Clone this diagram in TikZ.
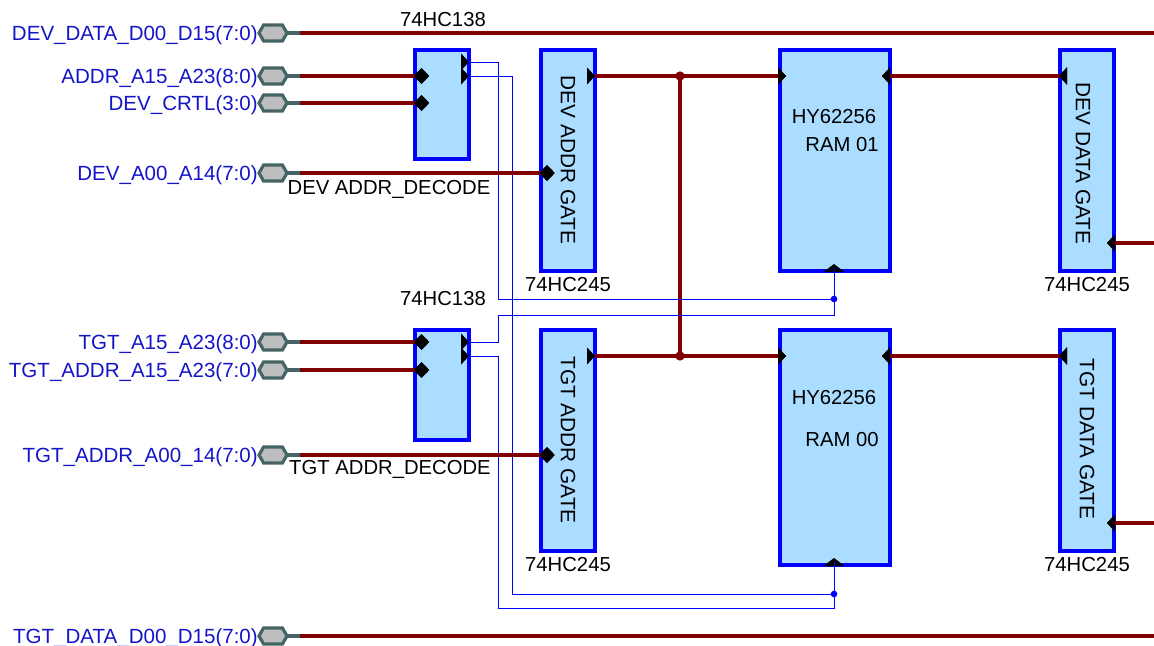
\documentclass[tikz,border=0pt]{standalone}
\usepackage{fontspec}
\setmainfont{Liberation Sans}
\usetikzlibrary{shapes.geometric,shapes.symbols}
\definecolor{busred}{HTML}{800000}
\definecolor{boxblue}{HTML}{0000FF}
\definecolor{boxfill}{HTML}{AADDFF}
\definecolor{portedge}{HTML}{456464}
\definecolor{portfill}{HTML}{BEBEBE}
\definecolor{portlabel}{HTML}{1414C8}
\tikzset{
  block/.style={draw=boxblue,fill=boxfill,line width=2.4pt,inner sep=0pt,outer sep=0pt,anchor=north west},
  bus/.style={draw=busred,line width=3pt},
  wire/.style={draw=boxblue,line width=0.75pt},
  port/.style={signal,signal to=east and west,signal pointer angle=120,
    draw=portedge,fill=portfill,line width=2.4pt,minimum width=21pt,minimum height=12pt,inner sep=0pt,outer sep=0pt},
  portname/.style={text=portlabel,font=\fontsize{15.4}{17}\selectfont,anchor=east,inner sep=0pt},
  partname/.style={text=black,font=\fontsize{15.2}{17}\selectfont,inner sep=0pt},
  gatename/.style={text=black,font=\fontsize{15.6}{17}\selectfont,inner sep=0pt,rotate=-90},
  pindia/.style={diamond,fill=black,inner sep=0pt,outer sep=0pt,minimum width=11.5pt,minimum height=12pt},
  pinright/.style={isosceles triangle,isosceles triangle stretches,fill=black,inner sep=0pt,outer sep=0pt,
    minimum width=13pt,minimum height=6pt,anchor=apex},
  pinleft/.style={pinright,shape border rotate=180},
  pinup/.style={pinright,shape border rotate=90,minimum width=16pt},
  joint/.style={circle,fill=busred,inner sep=0pt,outer sep=0pt,minimum size=7pt},
  tap/.style={circle,fill=boxblue,inner sep=0pt,outer sep=0pt,minimum size=5pt},
}
\begin{document}
\begin{tikzpicture}[x=0.75pt,y=-0.75pt]
  \useasboundingbox (0,0) rectangle (1154,646);
  % ports
  \foreach \nm/\yy/\txt in {pdata/33/DEV\_DATA\_D00\_D15(7:0),paddr/76/ADDR\_A15\_A23(8:0),
      pcrtl/103/DEV\_CRTL(3:0),pdeva/173/DEV\_A00\_A14(7:0),ptgta/342/TGT\_A15\_A23(8:0),
      ptgtb/370/TGT\_ADDR\_A15\_A23(7:0),ptgtc/455/TGT\_ADDR\_A00\_14(7:0),ptdat/636/TGT\_DATA\_D00\_D15(7:0)}{
    \coordinate (\nm s) at (300,\yy);
    \draw[portedge,line width=2.4pt] (273,\yy) -- (\nm s);
    \node[port] (\nm) at (273,\yy) {};
    \node[portname] (\nm t) at (258,\yy+2) {\txt};
  }
  % blocks
  \node[block,minimum width=40.5pt,minimum height=81.75pt] (decdev) at (415,50) {};
  \node[block,minimum width=40.5pt,minimum height=82.5pt] (dectgt) at (415,330) {};
  \node[block,minimum width=40.5pt,minimum height=165.75pt] (gatea) at (541,50) {};
  \node[block,minimum width=40.5pt,minimum height=165.75pt] (gateb) at (541,330) {};
  \node[block,minimum width=82.5pt,minimum height=165.75pt] (ramone) at (780,50) {};
  \node[block,minimum width=82.5pt,minimum height=176.25pt] (ramzero) at (780,330) {};
  \node[block,minimum width=40.5pt,minimum height=165.75pt] (gatec) at (1060,50) {};
  \node[block,minimum width=40.5pt,minimum height=165.75pt] (gated) at (1060,330) {};
  % pins, placed by their tips
  \node[pindia] (i1) at (421.5,76) {};
  \node[pindia] (i2) at (421.5,103) {};
  \node[pindia] (i3) at (547,173) {};
  \node[pindia] (i4) at (421.5,342) {};
  \node[pindia] (i5) at (421.5,370) {};
  \node[pindia] (i6) at (547,455) {};
  \node[pinright] (o1) at (469,62) {};
  \node[pinright] (o2) at (469,76) {};
  \node[pinright] (o3) at (469,342) {};
  \node[pinright] (o4) at (469,356) {};
  \node[pinright] (g1) at (595,76) {};
  \node[pinright] (g2) at (595,356) {};
  \node[pinright] (r1) at (786,76) {};
  \node[pinright] (r2) at (786,356) {};
  \node[pinleft] (r3) at (882,76) {};
  \node[pinleft] (r4) at (882,356) {};
  \node[pinleft] (d1) at (1059,76) {};
  \node[pinleft] (d2) at (1059,356) {};
  \node[pinleft] (d3) at (1107,243) {};
  \node[pinleft] (d4) at (1107,523) {};
  \node[pinup] (c1) at (834,264) {};
  \node[pinup] (c2) at (834,558) {};
  % free ends
  \coordinate (e1) at (1154,33);
  \coordinate (e2) at (1154,636);
  \coordinate (e3) at (1154,243);
  \coordinate (e4) at (1154,523);
  % upright bus goes under the blue wires
  \node[joint] (j1) at (680,76) {};
  \node[joint] (j2) at (680,356) {};
  \draw[bus] (j1.center) -- (j2.center);
  % blue wires
  \node[tap] (t1) at (834,299) {};
  \node[tap] (t2) at (834,594) {};
  \draw[wire] (o1.apex) -| (498,299) -- (t1.center) -- (c1.center);
  \draw[wire] (o2.apex) -| (512,594) -- (t2.center) -- (c2.center);
  \draw[wire] (o3.apex) -| (498,315) -| (t1.center);
  \draw[wire] (o4.apex) -| (498,608) -| (t2.center);
  % busses
  \draw[bus] (pdatas) -- (e1);
  \draw[bus] (ptdats) -- (e2);
  \draw[bus] (paddrs) -- (i1.center);
  \draw[bus] (pcrtls) -- (i2.center);
  \draw[bus] (pdevas) -- (i3.center);
  \draw[bus] (ptgtas) -- (i4.center);
  \draw[bus] (ptgtbs) -- (i5.center);
  \draw[bus] (ptgtcs) -- (i6.center);
  \draw[bus] (g1.apex) -- (j1.center) -- (r1.center);
  \draw[bus] (g2.apex) -- (j2.center) -- (r2.center);
  \draw[bus] (r3.center) -- (d1.center);
  \draw[bus] (r4.center) -- (d2.center);
  \draw[bus] (d3.center) -- (e3);
  \draw[bus] (d4.center) -- (e4);
  % pins again over the busses
  \foreach \pp in {i1,i2,i3,i4,i5,i6}{\node[pindia] at (\pp.center) {};}
  \foreach \pp in {r1,r2}{\node[pinright] at (\pp.apex) {};}
  \foreach \pp in {r3,r4,d1,d2,d3,d4}{\node[pinleft] at (\pp.apex) {};}
  % texts
  \node[partname] (n1) at (443,20) {74HC138};
  \node[partname] (n2) at (443,299) {74HC138};
  \node[partname] (n3) at (568,285) {74HC245};
  \node[partname] (n4) at (568,565) {74HC245};
  \node[partname] (n5) at (1087,285) {74HC245};
  \node[partname] (n6) at (1087,565) {74HC245};
  \node[partname] (n7) at (389,189) {DEV ADDR\_DECODE};
  \node[partname] (n8) at (390,469) {TGT ADDR\_DECODE};
  \node[partname] (n9) at (834,117) {HY62256};
  \node[partname] (n10) at (842,145) {RAM 01};
  \node[partname] (n11) at (834,398) {HY62256};
  \node[partname] (n12) at (842,440) {RAM 00};
  \node[gatename] (n13) at (568,160) {DEV ADDR GATE};
  \node[gatename] (n14) at (568,440) {TGT ADDR GATE};
  \node[gatename] (n15) at (1083,163.5) {DEV DATA GATE};
  \node[gatename] (n16) at (1087,439) {TGT DATA GATE};
\end{tikzpicture}
\end{document}
